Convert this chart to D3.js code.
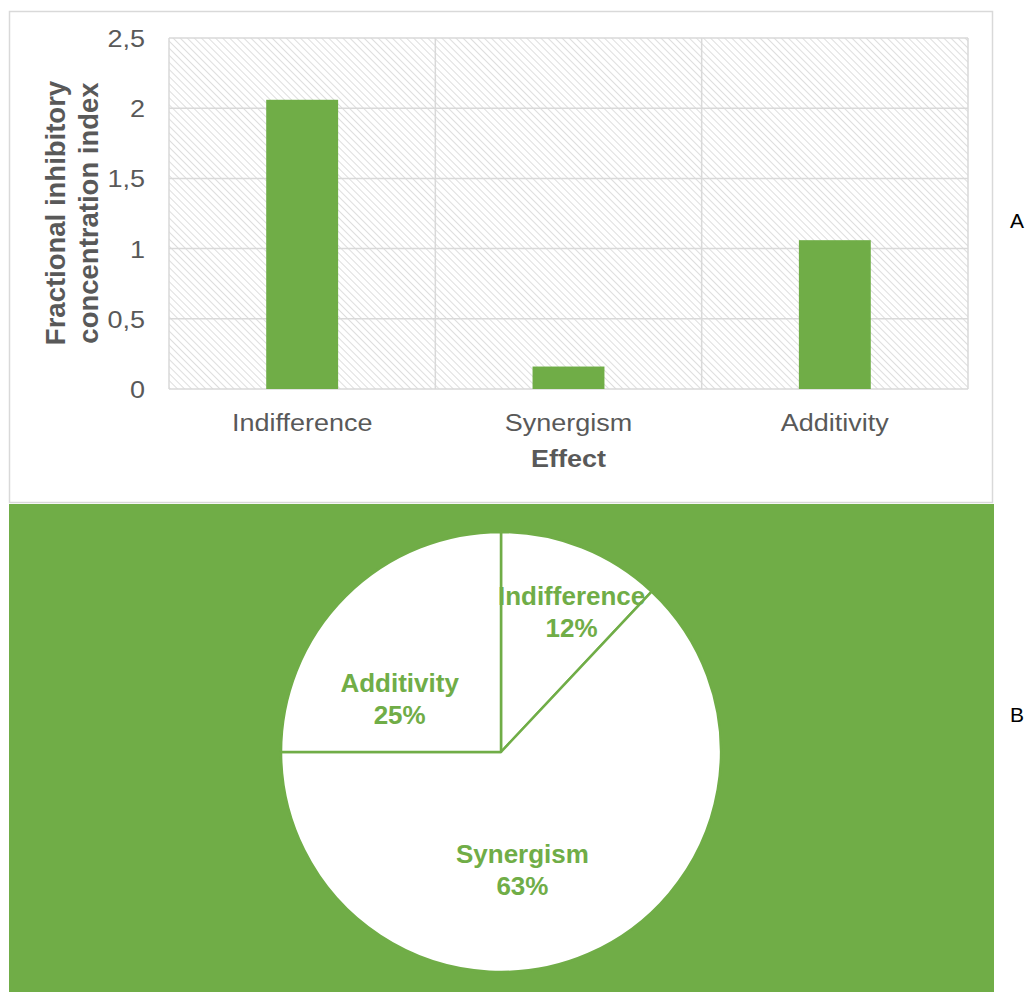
<!DOCTYPE html>
<html>
<head>
<meta charset="utf-8">
<script src="https://cdn.jsdelivr.net/npm/d3@7"></script>
<style>
  html, body { margin: 0; padding: 0; background: #ffffff; }
  svg { display: block; font-family: "Liberation Sans", Arial, sans-serif; }
</style>
</head>
<body>
<svg id="chart" width="1025" height="992"></svg>
<script>
// ---- data ----
const categories = ["Indifference", "Synergism", "Additivity"];
const ficValues = [2.06, 0.16, 1.06];
const yTickValues = [0, 0.5, 1, 1.5, 2, 2.5];
const yTickLabels = ["0", "0,5", "1", "1,5", "2", "2,5"];
const pieCategories = ["Indifference", "Synergism", "Additivity"];
const pieValues = [12, 63, 25];
const pieLabels = ["12%", "63%", "25%"];
const yTitleLines = ["Fractional inhibitory", "concentration index"];
const xTitle = "Effect";
const panelLabels = ["A", "B"];

// ---- layout ----
const GREEN = "#70ad47";
const GRID = "#d9d9d9";
const TXT = "#595959";
const svg = d3.select("#chart");

const defs = svg.append("defs");
const pat = defs.append("pattern")
  .attr("id", "hatch").attr("patternUnits", "userSpaceOnUse")
  .attr("width", 5).attr("height", 5)
  .attr("patternTransform", "rotate(-45)");
pat.append("rect").attr("width", 5).attr("height", 5).attr("fill", "#ffffff");
pat.append("line").attr("x1", 0).attr("y1", 0).attr("x2", 0).attr("y2", 5)
  .attr("stroke", "#d6d6d6").attr("stroke-width", 1.6);

// Panel A
svg.append("rect").attr("x", 9.5).attr("y", 11.5).attr("width", 983).attr("height", 491)
  .attr("fill", "#ffffff").attr("stroke", GRID).attr("stroke-width", 1.5);

const plot = { left: 169, right: 968, top: 38, bottom: 389 };
const x = d3.scaleBand().domain(categories).range([plot.left, plot.right])
  .paddingInner(0.73).paddingOuter(0.365);
const xCat = d3.scaleBand().domain(categories).range([plot.left, plot.right]);
const y = d3.scaleLinear().domain([0, 2.5]).range([plot.bottom, plot.top]);

svg.append("rect").attr("x", plot.left).attr("y", plot.top)
  .attr("width", plot.right - plot.left).attr("height", plot.bottom - plot.top)
  .attr("fill", "url(#hatch)");

// horizontal gridlines
svg.append("g").selectAll("line").data(yTickValues).join("line")
  .attr("x1", plot.left).attr("x2", plot.right)
  .attr("y1", d => y(d)).attr("y2", d => y(d))
  .attr("stroke", GRID).attr("stroke-width", 1.5);
// vertical category boundaries
const bounds = categories.map(c => xCat(c)).concat([plot.right]);
svg.append("g").selectAll("line").data(bounds).join("line")
  .attr("x1", d => d).attr("x2", d => d)
  .attr("y1", plot.top).attr("y2", plot.bottom)
  .attr("stroke", GRID).attr("stroke-width", 1.5);

// bars
svg.append("g").selectAll("rect").data(categories).join("rect")
  .attr("x", d => x(d)).attr("width", x.bandwidth())
  .attr("y", (d, i) => y(ficValues[i]))
  .attr("height", (d, i) => y(0) - y(ficValues[i]))
  .attr("fill", GREEN);

// y axis labels
const yAxis = d3.axisLeft(y).tickValues(yTickValues)
  .tickFormat((d, i) => yTickLabels[i]).tickSize(0).tickPadding(0);
const gy = svg.append("g").attr("transform", `translate(${plot.left - 24},0)`).call(yAxis);
gy.select(".domain").remove();
gy.selectAll("text")
  .attr("x", 0).attr("dy", null).attr("y", 8.5)
  .attr("fill", TXT).style("font-size", "27px")
  .attr("transform", "scale(1,0.89)")
  .attr("font-family", "Liberation Sans, Arial, sans-serif");
gy.selectAll(".tick").each(function(d) {
  const t = d3.select(this).select("text");
  t.attr("transform", `translate(0,${8.5 * 0.11}) scale(1,0.89)`);
});

// x axis labels
const xAxis = d3.axisBottom(xCat).tickSize(0).tickPadding(0);
const gx = svg.append("g").attr("transform", `translate(0,${plot.bottom + 42})`).call(xAxis);
gx.select(".domain").remove();
gx.selectAll("text")
  .attr("y", 0).attr("dy", null)
  .attr("fill", TXT).style("font-size", "27px")
  .attr("font-family", "Liberation Sans, Arial, sans-serif")
  .attr("transform", "scale(1,0.89)");

// x title
svg.append("text").attr("transform", `translate(${xCat("Synergism") + xCat.bandwidth() / 2},467) scale(1,0.89)`)
  .attr("text-anchor", "middle").attr("font-weight", "bold")
  .attr("fill", TXT).style("font-size", "27px").text(xTitle);

// y title
const yMid = 213;
svg.append("text").attr("transform", `translate(65,${yMid}) rotate(-90)`)
  .attr("text-anchor", "middle").attr("font-weight", "bold")
  .attr("fill", TXT).style("font-size", "27.5px").text(yTitleLines[0]);
svg.append("text").attr("transform", `translate(98,${yMid}) rotate(-90)`)
  .attr("text-anchor", "middle").attr("font-weight", "bold")
  .attr("fill", TXT).style("font-size", "27.5px").text(yTitleLines[1]);

// Panel B
svg.append("rect").attr("x", 9).attr("y", 504).attr("width", 985).attr("height", 488)
  .attr("fill", GREEN);

const cx = 501, cy = 752, R = 220;
const pie = d3.pie().sort(null).value(d => d)(pieValues);
const arc = d3.arc().innerRadius(0).outerRadius(R);
const labelArc = d3.arc().innerRadius(R * 0.6).outerRadius(R * 0.6);
const gp = svg.append("g").attr("transform", `translate(${cx},${cy})`);
gp.selectAll("path").data(pie).join("path")
  .attr("d", arc).attr("fill", "#ffffff")
  .attr("stroke", GREEN).attr("stroke-width", 2.5).attr("stroke-linejoin", "round");

const labelNudge = [[22, -24], [-31, -10], [-8, 33]];
pie.forEach((p, i) => {
  const c = labelArc.centroid(p);
  const lx = c[0] + labelNudge[i][0], ly = c[1] + labelNudge[i][1];
  const t = gp.append("text").attr("text-anchor", "middle")
    .attr("font-weight", "bold").attr("fill", GREEN).style("font-size", "26px");
  t.append("tspan").attr("x", lx).attr("y", ly).text(pieCategories[i]);
  t.append("tspan").attr("x", lx).attr("y", ly + 32).text(pieLabels[i]);
});

// panel letters
svg.append("text").attr("x", 1010).attr("y", 228).attr("fill", "#000")
  .style("font-size", "21px").text(panelLabels[0]);
svg.append("text").attr("x", 1010).attr("y", 722).attr("fill", "#000")
  .style("font-size", "21px").text(panelLabels[1]);
</script>
</body>
</html>
